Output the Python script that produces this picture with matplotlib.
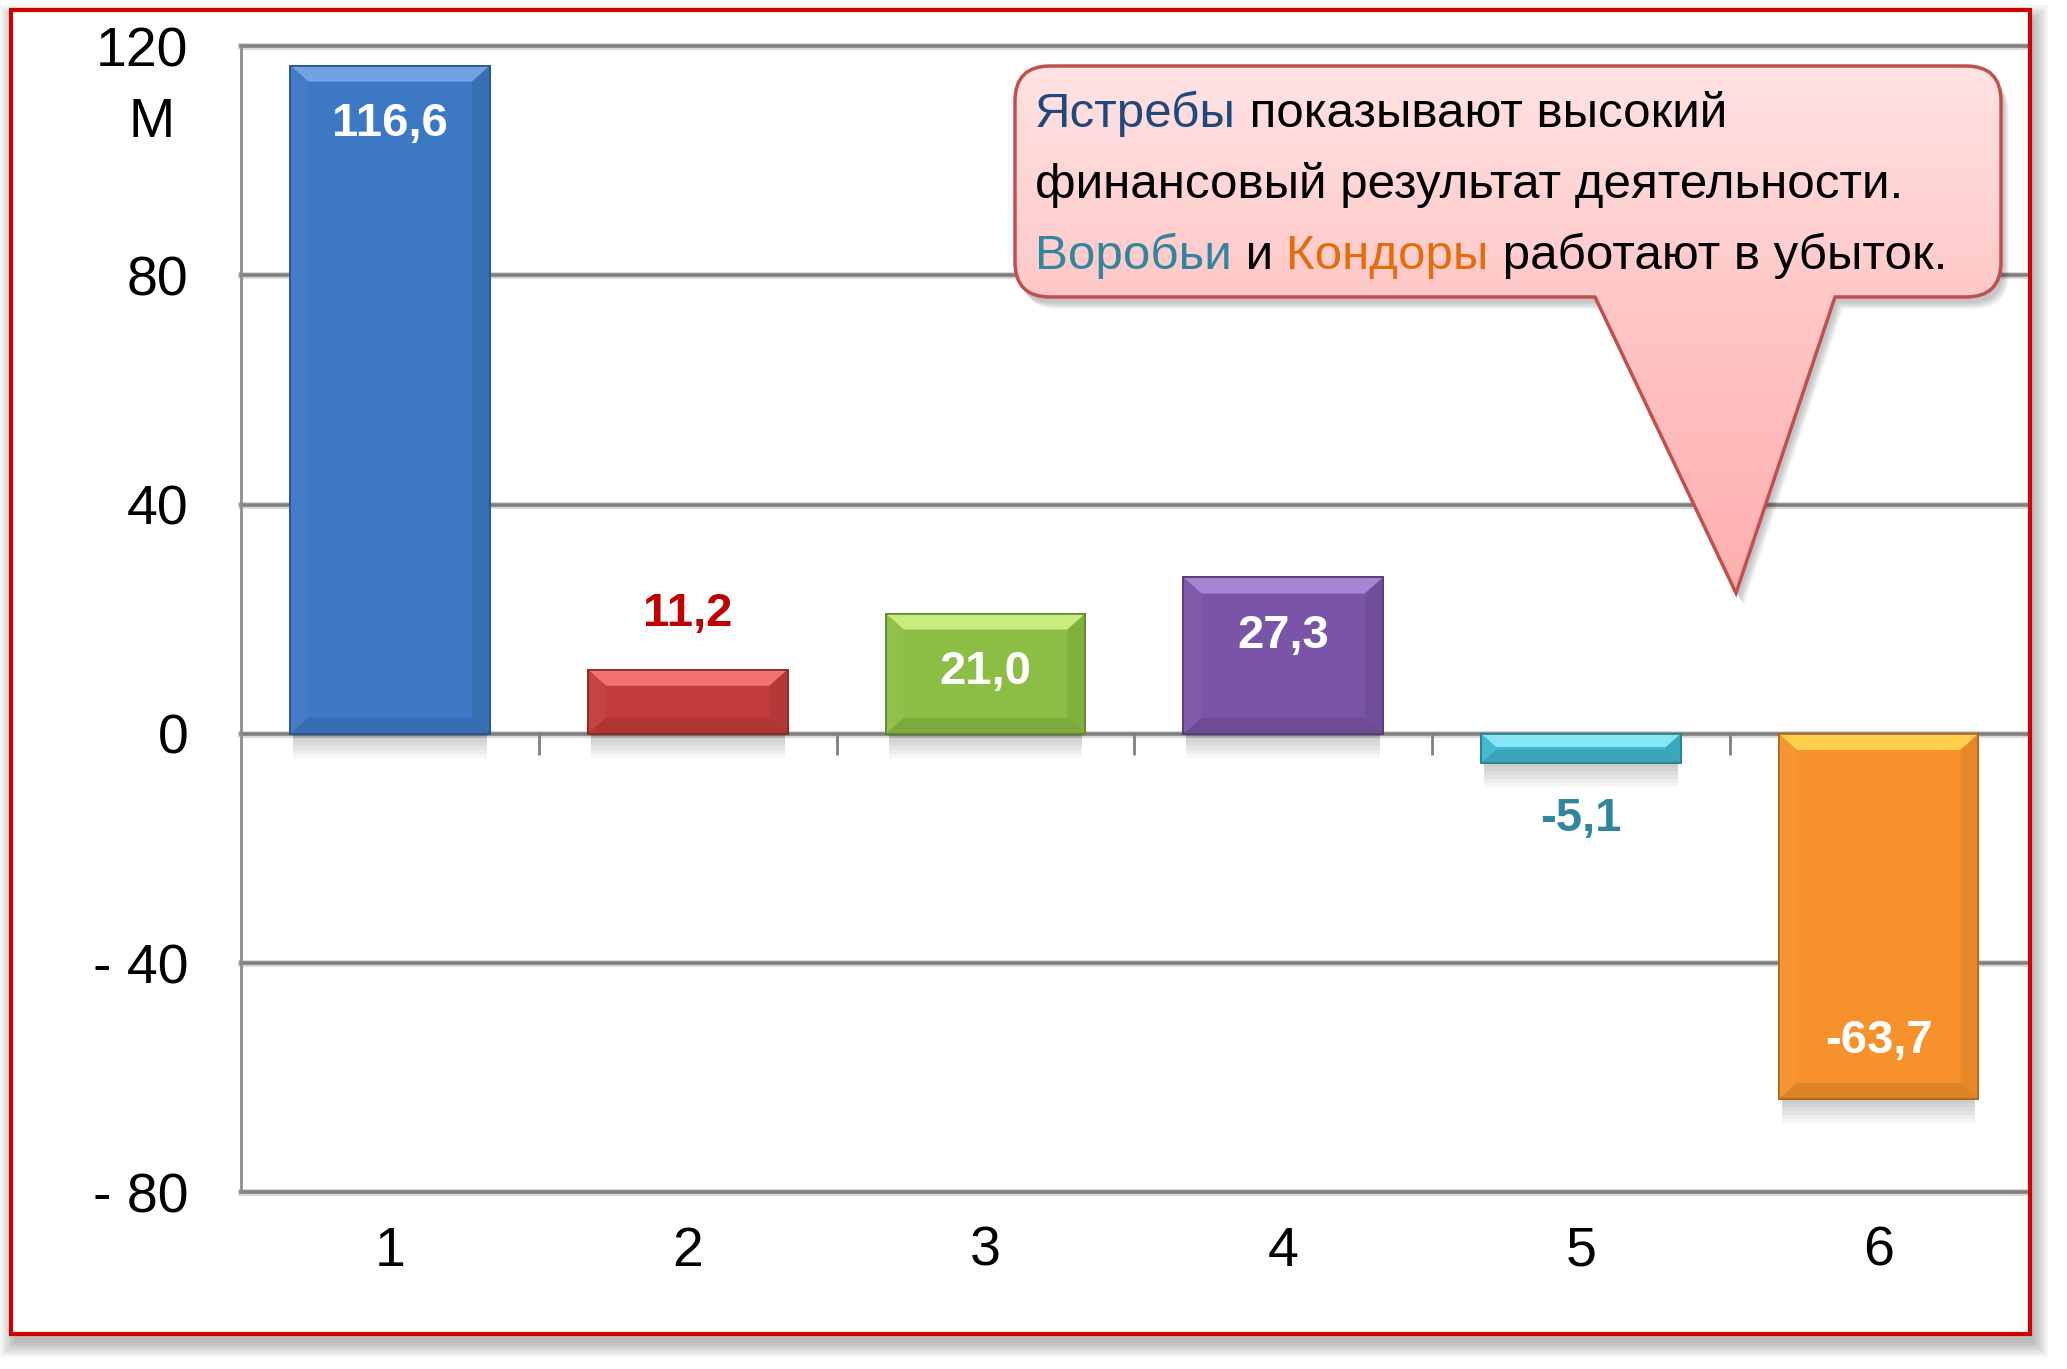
import numpy as np
import matplotlib.pyplot as plt
from matplotlib.patches import Rectangle, Polygon, PathPatch
from matplotlib.path import Path
from matplotlib.colors import to_rgb, LinearSegmentedColormap

# Data
categories = ["1", "2", "3", "4", "5", "6"]
values = [116.6, 11.2, 21.0, 27.3, -5.1, -63.7]
bar_colors = ["#3C78C3", "#C33B3B", "#8CBD44", "#7A54A6", "#3DB6CE", "#F7912B"]
top_colors = ["#6FA3E4", "#F27272", "#C9EC80", "#A685D2", "#86E6F6", "#FFD04C"]
label_colors = ["white", "#C00000", "white", "white", "#31859C", "white"]
label_inside = [True, False, True, True, False, True]
y_ticks = [-80, -40, 0, 40, 80, 120]
y_tick_labels = ["- 80", "- 40", "0", "40", "80", "120"]

callout_lines = [
    [("Ястребы", "#1F497D"), (" показывают высокий", "black")],
    [("финансовый результат деятельности.", "black")],
    [("Воробьи", "#31859C"), (" и ", "black"), ("Кондоры", "#E46C0A"),
     (" работают в убыток.", "black")],
]


def shade(c, k):
    # k > 0 -> towards white, k < 0 -> towards black
    r = np.array(to_rgb(c))
    if k >= 0:
        return tuple(r + (1 - r) * k)
    return tuple(r * (1 + k))


FONT = ["Liberation Sans Narrow", "Liberation Sans", "DejaVu Sans"]
plt.rcParams["font.family"] = FONT

W, H = 20.67, 13.69
fig = plt.figure(figsize=(W, H), dpi=100, facecolor="white")

# background layer: frame shadow + white frame
back = fig.add_axes([0, 0, 1, 1], zorder=0)
back.set_xlim(0, W)
back.set_ylim(0, H)
back.axis("off")
fl, fr, fb, ft = 0.105, 20.30, 0.35, 13.585
for i in range(8):
    g = 0.02 * i
    back.add_patch(Rectangle((fl + 0.04 - g, fb - 0.09 - g), fr - fl + 2 * g, ft - fb + 2 * g,
                             facecolor="black", edgecolor="none", alpha=0.035))
back.add_patch(Rectangle((fl, fb), fr - fl, ft - fb, facecolor="white", edgecolor="none"))

# chart
ax = fig.add_axes([0.1167, 0.1290, 0.8642, 0.8373], zorder=1)
ax.patch.set_alpha(0)
x = np.arange(1, len(values) + 1)
w = 0.67

ax.set_xlim(0.5, len(values) + 0.5)
ax.set_ylim(-80, 120)
ax.set_yticks(y_ticks, y_tick_labels)
ax.set_xticks(x, categories)
ax.tick_params(axis="both", length=0, labelsize=40, colors="black")
ax.tick_params(axis="y", pad=38)
ax.tick_params(axis="x", pad=24)
for s in ["top", "right", "bottom"]:
    ax.spines[s].set_visible(False)
ax.spines["left"].set_color("#8C8C8C")
ax.spines["left"].set_linewidth(2)

for yv in y_ticks:
    ax.axhline(yv, color="#D9D9D9", lw=5, zorder=1, clip_on=False)
    ax.axhline(yv, color="#808080", lw=2.6, zorder=1.5, clip_on=False)
ax.vlines(np.arange(1.5, len(values)), -3.6, 0, color="#808080", lw=2, zorder=1.5)

fig.text(0.0733, 0.9104, "M", fontsize=40, ha="center", va="center")

# bar shadows
for xi, v in zip(x, values):
    bot = min(v, 0)
    for i in range(6):
        ax.add_patch(Rectangle((xi - w / 2 + 0.01, bot - 0.7 * (i + 1)), w - 0.02, 0.7 * (i + 1),
                               facecolor="black", edgecolor="none", alpha=0.035, zorder=2))

bars = ax.bar(x, values, width=w, color=bar_colors,
              edgecolor=[shade(c, -0.3) for c in bar_colors], linewidth=1.2, zorder=3)

# bevel effect
dx, dy = 0.06, 2.8
for xi, v, c, tc in zip(x, values, bar_colors, top_colors):
    top = max(v, 0)
    bot = min(v, 0)
    h = top - bot
    b = min(dy, h * 0.45)
    bx = min(dx, dx * b / dy)
    xl, xr = xi - w / 2, xi + w / 2
    ax.add_patch(Polygon([(xl, top), (xr, top), (xr - bx, top - b), (xl + bx, top - b)],
                         closed=True, facecolor=tc, edgecolor="none", zorder=4))
    ax.add_patch(Polygon([(xr, top), (xr, bot), (xr - bx, bot + b), (xr - bx, top - b)],
                         closed=True, facecolor=shade(c, -0.07), edgecolor="none", zorder=4))
    ax.add_patch(Polygon([(xl, top), (xl, bot), (xl + bx, bot + b), (xl + bx, top - b)],
                         closed=True, facecolor=shade(c, 0.04), edgecolor="none", zorder=4))
    ax.add_patch(Polygon([(xl, bot), (xr, bot), (xr - bx, bot + b), (xl + bx, bot + b)],
                         closed=True, facecolor=shade(c, -0.1), edgecolor="none", zorder=4))
    ax.add_patch(Rectangle((xl, bot), w, h, facecolor="none",
                           edgecolor=shade(c, -0.3), lw=1.2, zorder=4.5))

# value labels
for xi, v, lc, inside in zip(x, values, label_colors, label_inside):
    sign = 1 if v >= 0 else -1
    off = -42 * sign if inside else 40 * sign
    ax.annotate(f"{v:.1f}".replace(".", ","), (xi, v), xytext=(0, off),
                textcoords="offset points", ha="center", va="center",
                fontsize=34, fontweight="bold", color=lc, zorder=6)

# front layer: frame border + callout
front = fig.add_axes([0, 0, 1, 1], zorder=2)
front.set_xlim(0, W)
front.set_ylim(0, H)
front.axis("off")
front.patch.set_alpha(0)
front.add_patch(Rectangle((fl, fb), fr - fl, ft - fb, facecolor="none",
                          edgecolor="#D00000", lw=3))

L, R, T, B = 10.15, 20.01, 13.03, 10.72
bx1, bx2 = 15.95, 18.35
tip = (17.36, 7.76)
r = 0.35
verts = [(L + r, T), (R - r, T), (R, T), (R, T - r), (R, B + r), (R, B), (R - r, B),
         (bx2, B), tip, (bx1, B), (L + r, B), (L, B), (L, B + r), (L, T - r), (L, T),
         (L + r, T), (L + r, T)]
codes = [Path.MOVETO, Path.LINETO, Path.CURVE3, Path.CURVE3, Path.LINETO, Path.CURVE3,
         Path.CURVE3, Path.LINETO, Path.LINETO, Path.LINETO, Path.LINETO, Path.CURVE3,
         Path.CURVE3, Path.LINETO, Path.CURVE3, Path.CURVE3, Path.CLOSEPOLY]
callout = Path(verts, codes)

for i in range(6):
    sh = Path(np.array(verts) + np.array([0.03 + 0.01 * i, -0.06 - 0.012 * i]), codes)
    front.add_patch(PathPatch(sh, facecolor="black", edgecolor="none", alpha=0.04))

patch = PathPatch(callout, facecolor="#FFD0D0", edgecolor="none")
front.add_patch(patch)
cmap = LinearSegmentedColormap.from_list("pink", ["#FFAFAF", "#FFC4C4", "#FFE3E3"])
grad = np.linspace(0, 1, 256).reshape(-1, 1)
im = front.imshow(grad, cmap=cmap, extent=(L, R, tip[1], T), origin="lower",
                  aspect="auto", zorder=2)
im.set_clip_path(patch)
front.add_patch(PathPatch(callout, facecolor="none", edgecolor="#C0504D", lw=2.5, zorder=3))

renderer = fig.canvas.get_renderer()
baselines = [12.42, 11.71, 11.00]
for line, yb in zip(callout_lines, baselines):
    xp = 10.35
    for s, col in line:
        t = front.text(xp, yb, s, color=col, fontsize=35.5, ha="left", va="baseline", zorder=4)
        xp += t.get_window_extent(renderer).width / fig.dpi

fig.savefig("out.png", dpi=100, facecolor="white")
